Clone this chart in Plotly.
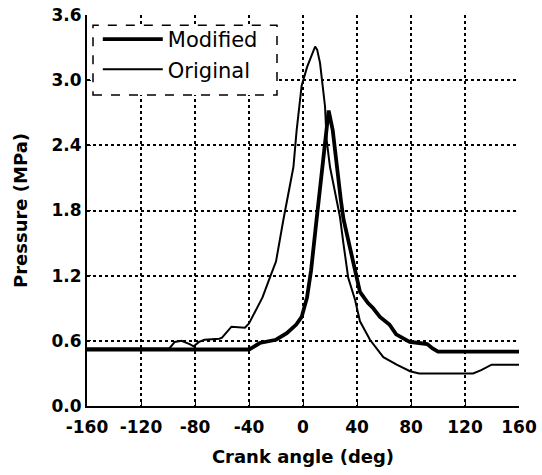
import plotly.graph_objects as go

# Crank angle (deg) and pressure (MPa)
mod_angle = [-160, -40, -36, -32, -20, -12, -5, -1, 3, 6, 10, 14, 17, 19,
             22, 25, 28, 30, 33.5, 35, 39.7, 42.2, 48, 52, 57, 64, 69, 74,
             79, 86, 92, 96, 100, 160]
mod_press = [0.52, 0.52, 0.55, 0.58, 0.61, 0.67, 0.75, 0.82, 1.0, 1.25, 1.71, 2.17, 2.55, 2.72,
             2.54, 2.2, 1.9, 1.72, 1.53, 1.41, 1.16, 1.05, 0.95, 0.9, 0.82, 0.75, 0.66, 0.62,
             0.59, 0.58, 0.57, 0.53, 0.50, 0.50]

orig_angle = [-160, -99, -95, -90, -84, -81, -77, -73, -62, -60, -53, -43, -40, -35, -30,
              -24, -20, -14.6, -10, -7.1, -4.7, -1, 3, 6, 9, 10.5, 12.6, 16.3, 17.5, 20,
              24, 27.4, 29.9, 33.5, 38.5, 42.2, 49.6, 59.5, 69.4, 79.3, 86, 126, 132,
              139.7, 160]
orig_press = [0.53, 0.53, 0.59, 0.60, 0.57, 0.55, 0.59, 0.61, 0.62, 0.63, 0.73, 0.72, 0.76, 0.88, 1.0,
              1.2, 1.33, 1.71, 2.0, 2.2, 2.54, 2.95, 3.12, 3.22, 3.31, 3.28, 3.16, 2.76, 2.45, 2.2,
              1.95, 1.74, 1.5, 1.18, 0.98, 0.78, 0.61, 0.45, 0.38, 0.32, 0.30, 0.30, 0.33,
              0.38, 0.38]

x_ticks = [-160, -120, -80, -40, 0, 40, 80, 120, 160]
y_ticks = [0.0, 0.6, 1.2, 1.8, 2.4, 3.0, 3.6]

fig = go.Figure()
fig.add_trace(go.Scatter(x=mod_angle, y=mod_press, mode="lines", name="Modified",
                         line=dict(color="black", width=3.8)))
fig.add_trace(go.Scatter(x=orig_angle, y=orig_press, mode="lines", name="Original",
                         line=dict(color="black", width=2)))

tickfont = dict(family="DejaVu Sans", size=17, color="black", weight="bold")
titlefont = dict(family="DejaVu Sans", size=18, color="black", weight="bold")

fig.update_layout(
    width=542, height=475,
    margin=dict(l=87, r=23, t=15, b=69),
    paper_bgcolor="white", plot_bgcolor="white",
    showlegend=True,
    legend=dict(x=0.025, y=0.99, xanchor="left", yanchor="top",
                bgcolor="rgba(0,0,0,0)", borderwidth=0,
                font=dict(family="DejaVu Sans", size=21, color="black"),
                itemwidth=60, tracegroupgap=0),
    xaxis=dict(range=[-160, 160], tickvals=x_ticks, ticktext=[str(v) for v in x_ticks],
               showgrid=True, gridcolor="black", griddash="dot", gridwidth=1.5,
               zeroline=False, showline=True, linecolor="black", linewidth=2,
               ticks="inside", ticklen=4, tickcolor="black", automargin=False,
               ticklabelstandoff=5,
               tickfont=tickfont,
               title=dict(text="Crank angle (deg)", font=titlefont, standoff=14)),
    yaxis=dict(range=[0, 3.6], tickvals=y_ticks, ticktext=[f"{v:.1f}" for v in y_ticks],
               showgrid=True, gridcolor="black", griddash="dot", gridwidth=1.5,
               zeroline=False, showline=True, linecolor="black", linewidth=2,
               ticks="inside", ticklen=4, tickcolor="black", automargin=False,
               tickfont=tickfont,
               title=dict(text="Pressure (MPa)", font=titlefont, standoff=19)),
    shapes=[
        dict(type="rect", xref="paper", yref="paper",
             x0=0.0139, x1=0.4398, y0=0.7954, y1=0.974,
             line=dict(color="black", width=1.5, dash="dash"),
             fillcolor="white", layer="above"),
    ],
)

fig.write_html("out.html")
